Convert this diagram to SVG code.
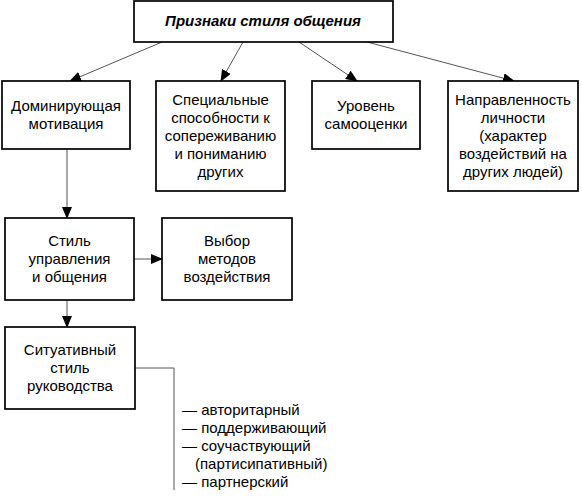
<svg xmlns="http://www.w3.org/2000/svg" width="582" height="499" viewBox="0 0 582 499">
<defs>
<marker id="ah" markerWidth="12" markerHeight="10" refX="11" refY="5" orient="auto" markerUnits="userSpaceOnUse">
<path d="M0,0 L12,5 L0,10 Z" fill="#000"/>
</marker>
<style>
.box{fill:#fff;stroke:#000;stroke-width:1.7}
.t{font-family:"Liberation Sans",Arial,sans-serif;font-size:15px;fill:#000;text-anchor:middle}
.l{font-family:"Liberation Sans",Arial,sans-serif;font-size:15px;fill:#000}
.c{stroke:#555;stroke-width:1;fill:none}
</style>
</defs>
<rect width="582" height="499" fill="#fff"/>
<g id="connectors">
<line class="c" x1="162" y1="42" x2="70" y2="81" marker-end="url(#ah)"/>
<line class="c" x1="243" y1="42" x2="221" y2="81" marker-end="url(#ah)"/>
<line class="c" x1="299" y1="42" x2="357" y2="81" marker-end="url(#ah)"/>
<line class="c" x1="367" y1="42" x2="514" y2="81" marker-end="url(#ah)"/>
<line class="c" x1="67" y1="149" x2="67" y2="218" marker-end="url(#ah)"/>
<line class="c" x1="134" y1="259" x2="162" y2="259" marker-end="url(#ah)"/>
<line class="c" x1="67" y1="300" x2="67" y2="327" marker-end="url(#ah)"/>
<polyline class="c" points="135,368 174,368 174,490"/>
</g>
<g id="title">
<rect class="box" x="134" y="1" width="259" height="41"/>
<text class="t" x="263" y="26" style="font-weight:bold;font-style:italic">Признаки стиля общения</text>
</g>
<g id="motivation">
<rect class="box" x="2" y="81" width="128" height="68"/>
<text class="t" x="66" y="111">Доминирующая</text>
<text class="t" x="66" y="129">мотивация</text>
</g>
<g id="abilities">
<rect class="box" x="156" y="81" width="129" height="110"/>
<text class="t" x="220.5" y="105">Специальные</text>
<text class="t" x="220.5" y="123">способности к</text>
<text class="t" x="220.5" y="141">сопереживанию</text>
<text class="t" x="220.5" y="159">и пониманию</text>
<text class="t" x="220.5" y="177">других</text>
</g>
<g id="selfesteem">
<rect class="box" x="312" y="81" width="108" height="68"/>
<text class="t" x="366" y="111">Уровень</text>
<text class="t" x="366" y="129">самооценки</text>
</g>
<g id="orientation">
<rect class="box" x="448" y="81" width="130" height="110"/>
<text class="t" x="513" y="105">Направленность</text>
<text class="t" x="513" y="123">личности</text>
<text class="t" x="513" y="141">(характер</text>
<text class="t" x="513" y="159">воздействий на</text>
<text class="t" x="513" y="177">других людей)</text>
</g>
<g id="style">
<rect class="box" x="5" y="218" width="129" height="82"/>
<text class="t" x="69.5" y="246">Стиль</text>
<text class="t" x="69.5" y="264">управления</text>
<text class="t" x="69.5" y="282">и общения</text>
</g>
<g id="methods">
<rect class="box" x="162" y="218" width="130" height="82"/>
<text class="t" x="227" y="246">Выбор</text>
<text class="t" x="227" y="264">методов</text>
<text class="t" x="227" y="282">воздействия</text>
</g>
<g id="situational">
<rect class="box" x="5" y="327" width="130" height="82"/>
<text class="t" x="70" y="355">Ситуативный</text>
<text class="t" x="70" y="373">стиль</text>
<text class="t" x="70" y="391">руководства</text>
</g>
<g id="list">
<text class="l" x="182" y="415">— авторитарный</text>
<text class="l" x="182" y="433">— поддерживающий</text>
<text class="l" x="182" y="451">— соучаствующий</text>
<text class="l" x="195" y="469">(партисипативный)</text>
<text class="l" x="182" y="487">— партнерский</text>
</g>
</svg>
